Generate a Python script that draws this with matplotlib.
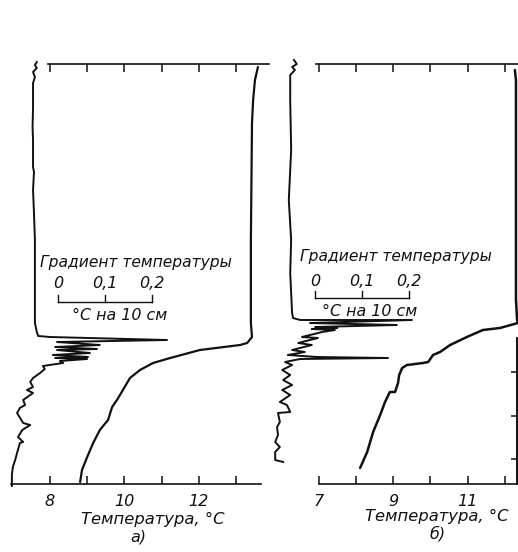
import numpy as np
import matplotlib
matplotlib.use("Agg")
import matplotlib.pyplot as plt

# ---------------- data ----------------
# panel a: temperature profile (°C) against depth (m)
temp_a = [13.59, 13.51, 13.46, 13.43, 13.40, 13.40, 13.43, 13.30, 13.11, 12.03,
          11.23, 10.77, 10.42, 10.15, 9.96, 9.80, 9.67, 9.56, 9.34, 9.16,
          9.00, 8.86, 8.81]
depth_temp_a = [0.3, 1.6, 3.6, 5.9, 17.6, 25.9, 27.3, 27.9, 28.1, 28.6,
                29.4, 29.9, 30.6, 31.4, 32.6, 33.6, 34.3, 35.6, 36.6, 37.9,
                39.3, 40.6, 41.8]

# panel a: temperature gradient trace (°C per 10 cm)
grad_a = [0.057, 0.053, 0.057, 0.049, 0.053, 0.049, 0.049, 0.048, 0.049, 0.049,
          0.051, 0.049, 0.051, 0.053, 0.053, 0.053, 0.053, 0.057, 0.060, 0.085,
          0.334, 0.100, 0.191, 0.096, 0.185, 0.100, 0.170, 0.091, 0.166, 0.096,
          0.164, 0.106, 0.113, 0.070, 0.074, 0.064, 0.049, 0.043, 0.049, 0.036,
          0.049, 0.028, 0.032, 0.021, 0.015, 0.028, 0.043, 0.026, 0.017, 0.028,
          0.021, 0.015, 0.011, 0.006, 0.004, 0.004]
depth_grad_a = [-0.2, 0.1, 0.4, 0.8, 1.3, 1.9, 4.3, 6.3, 7.6, 10.3,
                10.8, 12.6, 14.9, 17.6, 20.9, 24.3, 25.9, 26.8, 27.2, 27.3,
                27.6, 27.8, 28.1, 28.3, 28.5, 28.6, 28.9, 29.1, 29.3, 29.4,
                29.5, 29.7, 29.9, 30.2, 30.5, 30.9, 31.4, 31.8, 32.3, 32.6,
                32.9, 33.6, 34.1, 34.4, 34.9, 35.9, 36.1, 36.6, 37.3, 37.8,
                37.9, 38.9, 39.6, 40.3, 41.1, 42.2]

# panel б: temperature profile
temp_b = [12.27, 12.30, 12.30, 12.30, 12.33, 12.35, 11.87, 11.41, 10.98, 10.53,
          10.26, 10.07, 9.94, 9.80, 9.37, 9.24, 9.16, 9.13, 9.05, 8.91,
          8.78, 8.65, 8.46, 8.30, 8.11]
depth_temp_b = [0.6, 1.6, 13.6, 23.6, 25.6, 25.9, 26.4, 26.6, 27.3, 28.1,
                28.8, 29.1, 29.8, 29.9, 30.1, 30.4, 31.1, 31.9, 32.8, 32.8,
                33.8, 35.1, 36.8, 38.8, 40.4]

# panel б: temperature gradient trace
grad_b = [0.051, 0.057, 0.047, 0.053, 0.043, 0.043, 0.045, 0.040, 0.045, 0.043,
          0.047, 0.049, 0.064, 0.302, 0.085, 0.270, 0.096, 0.143, 0.089, 0.138,
          0.111, 0.068, 0.102, 0.060, 0.089, 0.047, 0.074, 0.038, 0.100, 0.251,
          0.064, 0.032, 0.047, 0.026, 0.043, 0.028, 0.047, 0.026, 0.043, 0.021,
          0.036, 0.043, 0.017, 0.021, 0.015, 0.017, 0.011, 0.021, 0.011, 0.011,
          0.028]
depth_grad_b = [-0.4, 0.0, 0.3, 0.6, 1.1, 3.6, 8.6, 13.6, 17.6, 20.9,
                24.9, 25.4, 25.6, 25.6, 25.9, 26.1, 26.3, 26.4, 26.5, 26.6,
                26.8, 27.3, 27.4, 27.9, 28.1, 28.6, 28.8, 29.1, 29.3, 29.4,
                29.5, 29.8, 30.1, 30.6, 31.1, 31.6, 32.1, 32.6, 33.1, 33.8,
                34.1, 34.8, 34.9, 35.8, 36.3, 37.1, 37.8, 38.3, 38.8, 39.6,
                39.8]

# axis ticks and labels
bottom_ticks_a = [8, 9, 10, 11, 12, 13]
bottom_labels_a = ["8", "", "10", "", "12", ""]
top_ticks_a = [8, 9, 10, 11, 12, 13, 14]
bottom_ticks_b = [7, 8, 9, 10, 11, 12]
bottom_labels_b = ["7", "", "9", "", "11", ""]
top_ticks_b = [7, 8, 9, 10, 11, 12]
right_ticks_b = [30.8, 35.2, 39.5]

scale_ticks = [0.0, 0.1, 0.2]
scale_labels = ["0", "0,1", "0,2"]

# ---------------- styling ----------------
FONT = dict(family=["DejaVu Sans"], style="italic")
INK = "#111111"
W_PX, H_PX = 518, 552

fig = plt.figure(figsize=(W_PX / 100, H_PX / 100), dpi=100)


def frac_box(x0, x1, y_top, y_bot):
    return [x0 / W_PX, 1 - y_bot / H_PX, (x1 - x0) / W_PX, (y_bot - y_top) / H_PX]


def setup_panel(ax, xlim, bottom_ticks, bottom_labels, bottom_bounds,
                top_ticks, top_bounds):
    ax.set_xlim(*xlim)
    ax.set_ylim(42, 0)
    ax.set_facecolor("none")
    for s in ("left", "right", "top"):
        ax.spines[s].set_visible(False)
    ax.spines["bottom"].set_bounds(*bottom_bounds)
    ax.spines["bottom"].set_linewidth(1.2)
    ax.spines["bottom"].set_color(INK)
    ax.set_yticks([])
    ax.set_xticks(bottom_ticks)
    ax.set_xticklabels(bottom_labels, fontsize=11.5, color=INK, **FONT)
    ax.tick_params(axis="x", direction="in", length=6, width=1.1,
                   color=INK, pad=7)
    top = ax.secondary_xaxis("top")
    top.set_xticks(top_ticks)
    top.set_xticklabels([])
    top.tick_params(direction="in", length=6, width=1.1, color=INK)
    top.spines["top"].set_bounds(*top_bounds)
    top.spines["top"].set_linewidth(1.2)
    top.spines["top"].set_color(INK)
    return top


def gradient_axis(ax, glim):
    g = ax.twiny()
    g.set_xlim(*glim)
    g.set_ylim(42, 0)
    g.axis("off")
    return g


def scale_bar(g, g0, d_bar, d_lab, d_title, g_title, d_unit, g_unit):
    xs = [g0 + t for t in scale_ticks]
    g.plot([xs[0], xs[-1]], [d_bar, d_bar], color=INK, lw=1.0)
    for x, lab in zip(xs, scale_labels):
        g.plot([x, x], [d_bar, d_bar - 0.7], color=INK, lw=1.0)
        g.text(x, d_lab, lab, ha="center", va="center", fontsize=11.5,
               color=INK, **FONT)
    g.text(g_title, d_title, "Градиент температуры", ha="left", va="center",
           fontsize=11.2, color=INK, **FONT)
    g.text(g_unit, d_unit, "°C на 10 см", ha="center", va="center",
           fontsize=11.4, color=INK, **FONT)


# ---------------- panel a ----------------
ax_a = fig.add_axes(frac_box(0, 270, 64, 484))
setup_panel(ax_a, (6.656, 13.914), bottom_ticks_a, bottom_labels_a,
            (6.95, 13.68), top_ticks_a, (7.95, 13.9))
ax_a.plot(temp_a, depth_temp_a, color=INK, lw=1.6, clip_on=False,
          solid_capstyle="round", solid_joinstyle="round")
g_a = gradient_axis(ax_a, (-0.0213, 0.5532))
g_a.plot(grad_a, depth_grad_a, color=INK, lw=1.4, clip_on=False,
         solid_joinstyle="round")
scale_bar(g_a, 0.102, 23.8, 21.9, 19.8, 0.064, 25.1, 0.234)
ax_a.text(10.77, 45.5, "Температура, °C", ha="center", va="center",
          fontsize=11.8, color=INK, clip_on=False, **FONT)
ax_a.text(10.37, 47.3, "а)", ha="center", va="center",
          fontsize=11.5, color=INK, clip_on=False, **FONT)

# ---------------- panel б ----------------
ax_b = fig.add_axes(frac_box(270, 522, 64, 484))
setup_panel(ax_b, (5.688, 12.462), bottom_ticks_b, bottom_labels_b,
            (7.0, 12.462), top_ticks_b, (6.92, 12.462))
# right-hand depth scale
ax_b.spines["right"].set_visible(True)
ax_b.spines["right"].set_position(("data", 12.33))
ax_b.spines["right"].set_bounds(27.4, 42)
ax_b.spines["right"].set_linewidth(1.4)
ax_b.spines["right"].set_color(INK)
ax_b.yaxis.set_ticks_position("right")
ax_b.set_yticks(right_ticks_b)
ax_b.set_yticklabels([])
ax_b.tick_params(axis="y", direction="in", length=4, width=1.1, color=INK)
ax_b.plot(temp_b, depth_temp_b, color=INK, lw=1.8, clip_on=False,
          solid_capstyle="round", solid_joinstyle="round")
g_b = gradient_axis(ax_b, (0.0, 0.5362))
g_b.plot(grad_b, depth_grad_b, color=INK, lw=1.4, clip_on=False,
         solid_joinstyle="round")
scale_bar(g_b, 0.096, 23.4, 21.8, 19.3, 0.064, 24.8, 0.213)
ax_b.text(10.18, 45.2, "Температура, °C", ha="center", va="center",
          fontsize=11.8, color=INK, clip_on=False, **FONT)
ax_b.text(10.18, 47.0, "б)", ha="center", va="center",
          fontsize=11.5, color=INK, clip_on=False, **FONT)

fig.savefig("out.png", dpi=100)
